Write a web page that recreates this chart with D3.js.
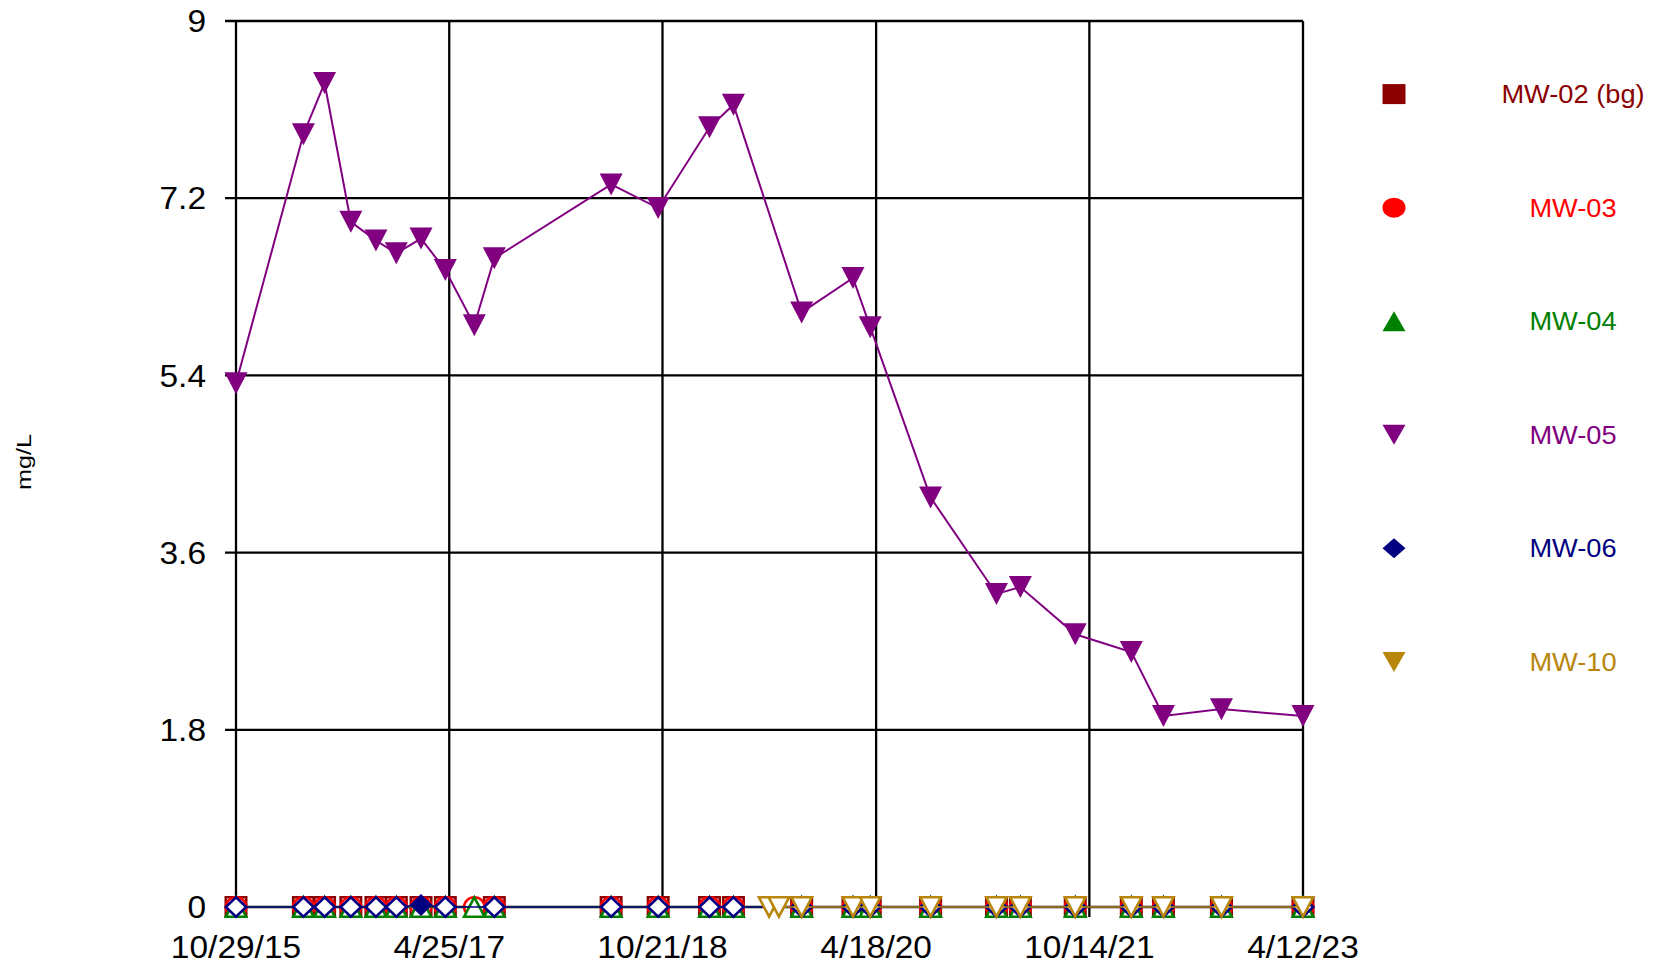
<!DOCTYPE html>
<html>
<head>
<meta charset="utf-8">
<script src="https://cdn.jsdelivr.net/npm/d3@7"></script>
<style>
  html, body { margin: 0; padding: 0; background: #fff; }
  svg { display: block; font-family: "Liberation Sans", Arial, sans-serif; }
</style>
</head>
<body>
<svg id="chart" width="1658" height="969"></svg>
<script>
// ---------------- data ----------------
const sampleDates = ["2015-10-29","2016-04-18","2016-06-11","2016-08-17","2016-10-20","2016-12-11",
  "2017-02-12","2017-04-15","2017-06-28","2017-08-18","2018-06-12","2018-10-10","2019-02-18",
  "2019-04-20","2019-07-20","2019-08-14","2019-10-11","2020-02-19","2020-04-03","2020-09-04",
  "2021-02-19","2021-04-21","2021-09-08","2022-01-29","2022-04-21","2022-09-16","2023-04-12"];

// values in mg/L; 0 = non-detect (hollow marker), null = not sampled
const mw02 = [0,0,0,0,0,0,0,0,null,0,0,0,0,0,null,null,0,0,0,0,0,0,0,0,0,0,0];
const mw03 = [0,0,0,0,0,0,0,0,0,0,0,0,0,0,null,null,0,0,0,0,0,0,0,0,0,0,0];
const mw04 = [0,0,0,0,0,0,0,0,0,0,0,0,0,0,null,null,0,0,0,0,0,0,0,0,0,0,0];
const mw05 = [5.32,7.85,8.37,6.96,6.77,6.64,6.79,6.47,5.91,6.59,7.34,7.10,7.92,8.15,null,null,
  6.04,6.39,5.89,4.16,3.18,3.25,2.77,2.59,1.94,2.01,1.94];
const mw06 = [0,0,0,0,0,0,0.02,0,null,0,0,0,0,0,null,null,0,0,0,0,0,0,0,0,0,0,0];
const mw10 = [null,null,null,null,null,null,null,null,null,null,null,null,null,null,0,0,
  0,0,0,0,0,0,0,0,0,0,0];

const seriesNames  = ["MW-02 (bg)","MW-03","MW-04","MW-05","MW-06","MW-10"];
const seriesValues = [mw02, mw03, mw04, mw05, mw06, mw10];
const seriesColors = ["#8B0000","#FF0000","#008000","#800080","#000080","#B8860B"];
const seriesShapes = ["square","circle","triangleUp","triangleDown","diamond","triangleDown"];

const yTicks = [0, 1.8, 3.6, 5.4, 7.2, 9];
const xTicks = ["2015-10-29","2017-04-25","2018-10-21","2020-04-18","2021-10-14","2023-04-12"];
const yTitle = "mg/L";

// ---------------- chart ----------------
const svg = d3.select("#chart");
const parse = d3.utcParse("%Y-%m-%d");
const fmt = d3.utcFormat("%-m/%-d/%y");

const x = d3.scaleUtc().domain([parse(xTicks[0]), parse(xTicks[xTicks.length-1])]).range([236, 1303]);
const y = d3.scaleLinear().domain([0, 9]).range([907, 21]);

const grid = svg.append("g");
grid.selectAll("line.h").data(yTicks).join("line")
  .attr("x1", 225).attr("x2", x.range()[1])
  .attr("y1", d => y(d)).attr("y2", d => y(d))
  .attr("stroke", "#000").attr("stroke-width", 2.3);
grid.selectAll("line.v").data(xTicks).join("line")
  .attr("x1", d => x(parse(d))).attr("x2", d => x(parse(d)))
  .attr("y1", y(9)).attr("y2", y(0) + 10)
  .attr("stroke", "#000").attr("stroke-width", 2.3);

svg.append("g").selectAll("text").data(yTicks).join("text")
  .attr("transform", d => `translate(206,${y(d)}) scale(1.08,1)`)
  .attr("text-anchor", "end").attr("dy", "0.36em")
  .attr("font-size", 31).attr("fill", "#000")
  .text(d => d === 0 ? "0" : d3.format("~g")(d));

svg.append("g").selectAll("text").data(xTicks).join("text")
  .attr("transform", d => `translate(${x(parse(d))},958) scale(1.08,1)`)
  .attr("text-anchor", "middle")
  .attr("font-size", 31).attr("fill", "#000")
  .text(d => fmt(parse(d)));

svg.append("text")
  .attr("transform", "translate(31,462) rotate(-90) scale(1.2,1)")
  .attr("text-anchor", "middle")
  .attr("font-size", 21).attr("fill", "#000")
  .text(yTitle);

function shapePath(shape, w, h) {
  const a = w / 2, b = h / 2;
  switch (shape) {
    case "square": return `M${-a},${-b}H${a}V${b}H${-a}Z`;
    case "circle": return `M${-a},0A${a},${b} 0 1,0 ${a},0A${a},${b} 0 1,0 ${-a},0Z`;
    case "triangleUp": return `M${-a},${b}L${a},${b}L0,${-b}Z`;
    case "triangleDown": return `M${-a},${-b}L${a},${-b}L0,${b}Z`;
    case "diamond": return `M0,${-b}L${a},0L0,${b}L${-a},0Z`;
  }
}

const MW = 23, MH = 22, SW = 2.6;
const lineGen = d3.line().defined(d => d.v !== null).x(d => x(d.t)).y(d => y(d.v));

seriesNames.forEach((name, i) => {
  const pts = seriesValues[i].map((v, k) => ({ t: parse(sampleDates[k]), v }));
  const valid = pts.filter(d => d.v !== null);
  const g = svg.append("g");
  g.append("path").datum(valid)
    .attr("d", lineGen)
    .attr("fill", "none").attr("stroke", seriesColors[i])
    .attr("stroke-width", i === 3 ? 2 : 1.6);
  g.selectAll("path.m").data(valid).join("path")
    .attr("transform", d => `translate(${x(d.t)},${y(d.v)})`)
    .attr("d", d => d.v > 0 ? shapePath(seriesShapes[i], MW, MH)
                             : shapePath(seriesShapes[i], MW - SW, MH - SW))
    .attr("fill", d => d.v > 0 ? seriesColors[i] : "#fff")
    .attr("stroke", d => d.v > 0 ? "none" : seriesColors[i])
    .attr("stroke-width", SW);
});

// legend
const ly = d3.scalePoint().domain(seriesNames).range([94.1, 661.9]);
const leg = svg.append("g");
leg.selectAll("path").data(seriesNames).join("path")
  .attr("transform", d => `translate(1394,${ly(d)})`)
  .attr("d", (d, i) => shapePath(seriesShapes[i], 23, 20))
  .attr("fill", (d, i) => seriesColors[i]);
leg.selectAll("text").data(seriesNames).join("text")
  .attr("transform", d => `translate(1573,${ly(d)}) scale(1.09,1)`)
  .attr("text-anchor", "middle").attr("dy", "0.36em")
  .attr("font-size", 25)
  .attr("fill", (d, i) => seriesColors[i])
  .text(d => d);
</script>
</body>
</html>
